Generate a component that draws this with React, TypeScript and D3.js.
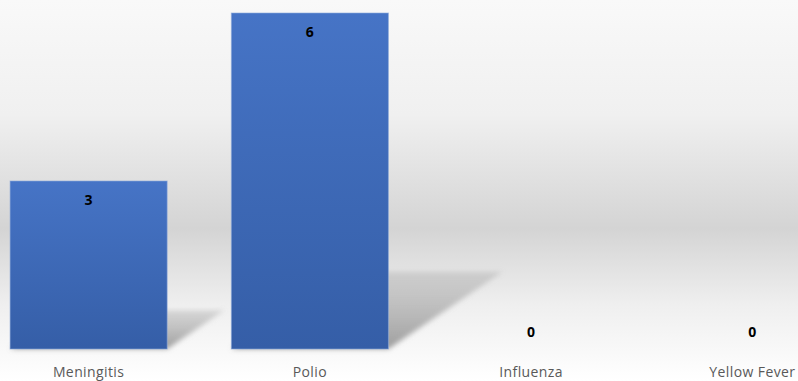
import * as d3 from "d3";

const categories = ["Meningitis", "Polio", "Influenza", "Yellow Fever"];
const values = [3, 6, 0, 0];
const yDomainMax = 6;

const W = 798;
const H = 381;
const baseline = 349;
const top = 13;

export default function App() {
  const x = d3
    .scaleBand<string>()
    .domain(categories)
    .range([-22, 863])
    .paddingInner(0.29)
    .paddingOuter(0.145);

  const y = d3.scaleLinear().domain([0, yDomainMax]).range([baseline, top]);

  return (
    <svg
      width={W}
      height={H}
      style={{ position: "absolute", left: 0, top: 0, display: "block" }}
    >
      <defs>
        <linearGradient id="bg" x1="0" y1="0" x2="0" y2="1">
          <stop offset="0" stopColor="#f9f9f9" />
          <stop offset="0.3" stopColor="#f0f0f0" />
          <stop offset="0.6" stopColor="#d4d4d4" />
          <stop offset="0.8" stopColor="#efefef" />
          <stop offset="1" stopColor="#ffffff" />
        </linearGradient>
        <linearGradient id="bar" x1="0" y1="0" x2="0" y2="1">
          <stop offset="0" stopColor="#4674c6" />
          <stop offset="1" stopColor="#355ea7" />
        </linearGradient>
        <linearGradient id="shadow" x1="0" y1="1" x2="0" y2="0">
          <stop offset="0" stopColor="#808080" stopOpacity="0.75" />
          <stop offset="1" stopColor="#999999" stopOpacity="0.3" />
        </linearGradient>
        <filter id="blur" x="-20%" y="-20%" width="140%" height="140%">
          <feGaussianBlur stdDeviation="2.5" />
        </filter>
      </defs>
      <rect x={0} y={0} width={W} height={H} fill="url(#bg)" />

      {/* perspective shadows */}
      {categories.map((c, i) => {
        const v = values[i];
        if (v === 0) return null;
        const h = baseline - y(v);
        const dx = h * 0.34;
        const dy = h * 0.23;
        const x0 = x(c)!;
        const x1 = x0 + x.bandwidth();
        const pts = [
          [x0, baseline],
          [x1, baseline],
          [x1 + dx, baseline - dy],
          [x0 + dx, baseline - dy],
        ];
        return (
          <polygon
            key={"s" + c}
            points={pts.map((p) => p.join(",")).join(" ")}
            fill="url(#shadow)"
            filter="url(#blur)"
          />
        );
      })}

      {categories.map((c, i) => (
        <rect
          key={c}
          x={x(c)}
          y={y(values[i])}
          width={x.bandwidth()}
          height={baseline - y(values[i])}
          fill="url(#bar)"
          stroke="#8eaadb"
          strokeOpacity={0.6}
          strokeWidth={1}
        />
      ))}

      {categories.map((c, i) => (
        <text
          key={"v" + c}
          x={x(c)! + x.bandwidth() / 2}
          y={values[i] === 0 ? y(0) - 17 : y(values[i]) + 19}
          dy="0.35em"
          textAnchor="middle"
          fontFamily="Open Sans, sans-serif"
          fontWeight={700}
          fontSize={14}
          fill="#000"
        >
          {values[i]}
        </text>
      ))}

      {categories.map((c) => (
        <text
          key={"l" + c}
          x={x(c)! + x.bandwidth() / 2}
          y={372}
          dy="0.35em"
          textAnchor="middle"
          fontFamily="Open Sans, sans-serif"
          fontSize={14}
          letterSpacing={0.4}
          fill="#595959"
        >
          {c}
        </text>
      ))}
    </svg>
  );
}
